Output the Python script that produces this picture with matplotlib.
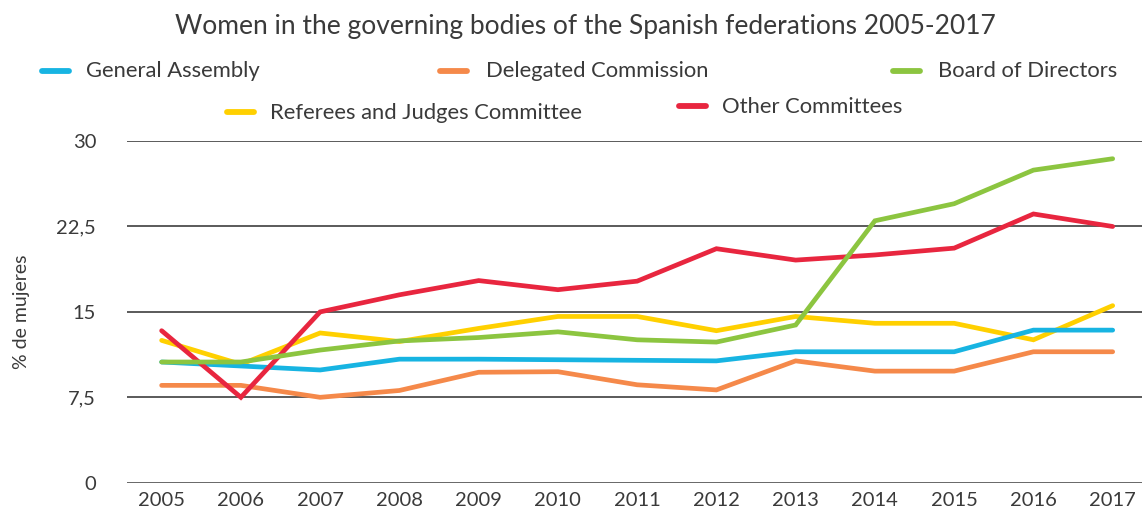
import matplotlib
matplotlib.use("Agg")
import matplotlib.pyplot as plt
from matplotlib.lines import Line2D

plt.rcParams["font.family"] = ["Lato", "DejaVu Sans"]

years = list(range(2005, 2018))

general_assembly = [10.6, 10.25, 9.9, 10.85, 10.85, 10.8, 10.75, 10.7, 11.5, 11.5, 11.5, 13.4, 13.4]
delegated_commission = [8.55, 8.55, 7.5, 8.1, 9.7, 9.75, 8.6, 8.15, 10.7, 9.8, 9.8, 11.5, 11.5]
board_of_directors = [10.6, 10.6, 11.65, 12.45, 12.75, 13.25, 12.55, 12.35, 13.85, 23.0, 24.5, 27.45, 28.45]
referees_judges = [12.5, 10.4, 13.15, 12.4, 13.55, 14.6, 14.6, 13.35, 14.6, 14.0, 14.0, 12.55, 15.55]
other_committees = [13.35, 7.5, 15.0, 16.5, 17.75, 16.95, 17.7, 20.55, 19.55, 20.0, 20.6, 23.6, 22.5]

series_names = ["General Assembly", "Delegated Commission", "Board of Directors",
                "Referees and Judges Committee", "Other Committees"]
colors = {
    "General Assembly": "#17b4e2",
    "Delegated Commission": "#f5894a",
    "Board of Directors": "#8cc540",
    "Referees and Judges Committee": "#ffd000",
    "Other Committees": "#e8263f",
}
values = {
    "General Assembly": general_assembly,
    "Delegated Commission": delegated_commission,
    "Board of Directors": board_of_directors,
    "Referees and Judges Committee": referees_judges,
    "Other Committees": other_committees,
}

y_ticks = [0, 7.5, 15, 22.5, 30]
y_tick_labels = ["0", "7,5", "15", "22,5", "30"]

text_color = "#3a3a3a"
W, H = 1142, 513

fig = plt.figure(figsize=(11.42, 5.13), dpi=100)
ax = fig.add_axes([0.111, 0.059, 0.889, 0.666])

ax.set_xlim(2004.56, 2017.37)
ax.set_ylim(0, 30)

for yv in y_ticks:
    ax.axhline(yv, color="#5a5a5a", lw=1.4 if yv else 2.0, zorder=1)

draw_order = ["Referees and Judges Committee", "General Assembly",
              "Delegated Commission", "Other Committees", "Board of Directors"]
for name in draw_order:
    ax.plot(years, values[name], color=colors[name], lw=3.4,
            solid_capstyle="round", solid_joinstyle="miter", zorder=3)

for s in ax.spines.values():
    s.set_visible(False)
ax.set_yticks(y_ticks)
ax.set_yticklabels(y_tick_labels)
ax.set_xticks(years)
ax.set_xticklabels([str(y) for y in years])
ax.tick_params(length=0, labelsize=14.5, colors=text_color)
ax.tick_params(axis="y", pad=22)
ax.tick_params(axis="x", pad=7)

fig.text(22 / W, 1 - 312 / H, "% de mujeres", rotation=90, ha="center", va="center",
         fontsize=14, color=text_color)

fig.text(585 / W, 1 - 27 / H, "Women in the governing bodies of the Spanish federations 2005-2017",
         ha="center", va="center", fontsize=19, color=text_color)

# legend laid out in two rows
legend_pos = {
    "General Assembly": (42, 71, 86, 71),
    "Delegated Commission": (440, 71, 486, 71),
    "Board of Directors": (893, 71, 938, 71),
    "Referees and Judges Committee": (227, 112, 270, 113),
    "Other Committees": (679, 106, 722, 107),
}
for name, (hx, hy, tx, ty) in legend_pos.items():
    fig.add_artist(Line2D([hx / W, (hx + 27) / W], [1 - hy / H, 1 - hy / H],
                          color=colors[name], lw=4.2, solid_capstyle="round"))
    fig.text(tx / W, 1 - ty / H, name, ha="left", va="center",
             fontsize=15.8, color=text_color)

fig.savefig("out.png", dpi=100)
